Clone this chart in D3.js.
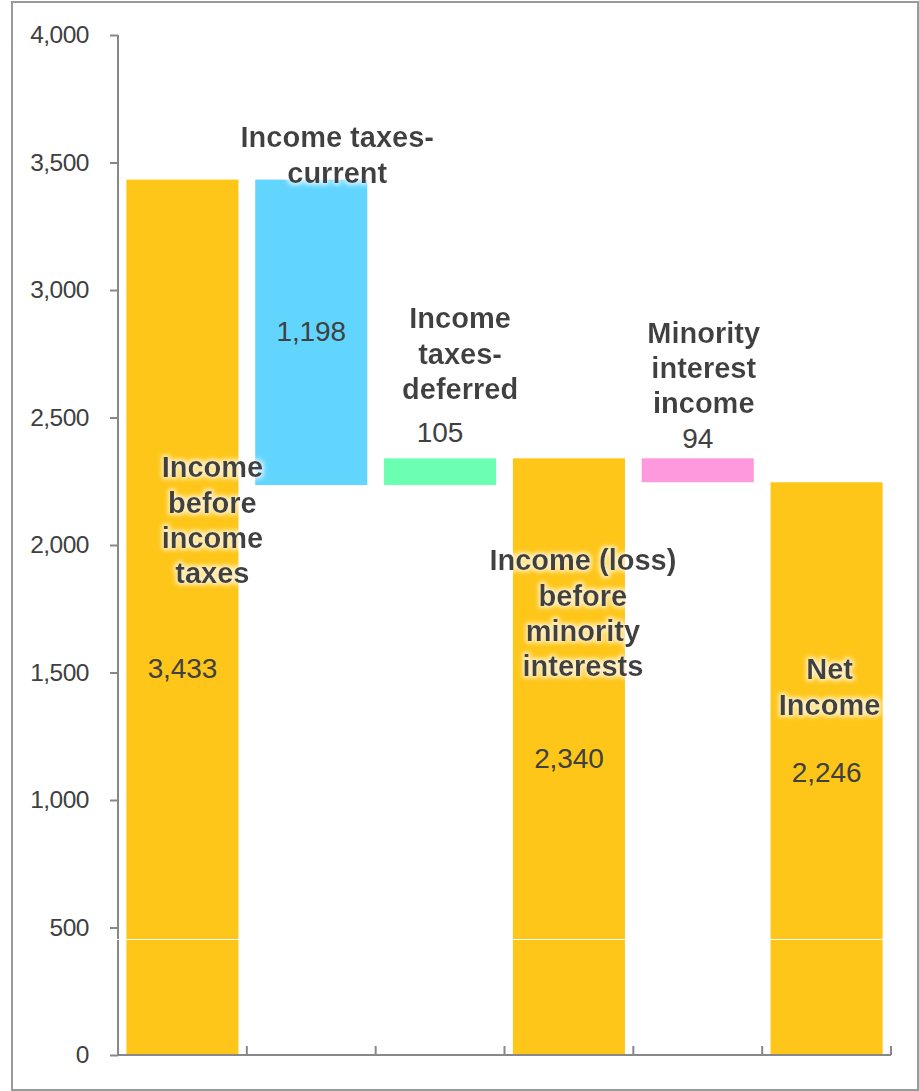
<!DOCTYPE html>
<html>
<head>
<meta charset="utf-8">
<script src="https://cdn.jsdelivr.net/npm/d3@7/dist/d3.min.js"></script>
<style>
  html, body { margin: 0; padding: 0; background: #fff; }
  svg { display: block; font-family: "Liberation Sans", Arial, Helvetica, sans-serif; }
</style>
</head>
<body>
<svg id="chart" width="919" height="1091"></svg>
<script>
// Waterfall: income before taxes down to net income
const categories = [
  "Income before income taxes",
  "Income taxes-current",
  "Income taxes-deferred",
  "Income (loss) before minority interests",
  "Minority interest income",
  "Net Income"
];
// wrapped label lines for each category
const nameLines = [
  ["Income", "before", "income", "taxes"],
  ["Income taxes-", "current"],
  ["Income", "taxes-", "deferred"],
  ["Income (loss)", "before", "minority", "interests"],
  ["Minority", "interest", "income"],
  ["Net", "Income"]
];
// floating bar extents: start and end value
const barStart = [0, 2235, 2235, 0, 2246, 0];
const barEnd   = [3433, 3433, 2340, 2340, 2340, 2246];
const barValue = [3433, 1198, 105, 2340, 94, 2246];
const barKind  = ["total", "step", "step", "total", "step", "total"];
const yTicks = [0, 500, 1000, 1500, 2000, 2500, 3000, 3500, 4000];

// label placement (value units on the y scale, pixel shift along x)
const nameAt  = [2306, 3600, 2890, 1941, 2835, 1514];
const nameDx  = [30, 26, 20, 14, 6, 3];
const valueAt = [1518, 2839, 2443, 1165, 2420, 1110];

const colors = ["#FEC619", "#62D5FE", "#6BFFB2", "#FEC619", "#FF99DD", "#FEC619"];
const textColor = "#404040";
const axisColor = "#888888";

const svg = d3.select("#chart");

// soft white halo behind category names
const defs = svg.append("defs");
const f = defs.append("filter").attr("id", "halo")
  .attr("x", "-20%").attr("y", "-30%").attr("width", "140%").attr("height", "160%");
f.append("feMorphology").attr("in", "SourceAlpha").attr("operator", "dilate").attr("radius", 2).attr("result", "d");
f.append("feGaussianBlur").attr("in", "d").attr("stdDeviation", 2).attr("result", "b");
f.append("feFlood").attr("flood-color", "#ffffff").attr("flood-opacity", 0.7).attr("result", "c");
f.append("feComposite").attr("in", "c").attr("in2", "b").attr("operator", "in").attr("result", "g");
const m = f.append("feMerge");
m.append("feMergeNode").attr("in", "g");
m.append("feMergeNode").attr("in", "SourceGraphic");

// outer frame
svg.append("rect")
  .attr("x", 12).attr("y", 2).attr("width", 906).attr("height", 1088)
  .attr("fill", "none").attr("stroke", "#9a9a9a").attr("stroke-width", 2);

const plot = { left: 118, right: 891, top: 35, bottom: 1055 };

const y = d3.scaleLinear().domain([0, 4000]).range([plot.bottom, plot.top]);
const x = d3.scaleBand()
  .domain(d3.range(categories.length))
  .range([plot.left, plot.right])
  .paddingInner(0.13)
  .paddingOuter(0.065);

// bars
svg.append("g").selectAll("rect")
  .data(categories)
  .join("rect")
  .attr("x", (d, i) => x(i))
  .attr("width", x.bandwidth())
  .attr("y", (d, i) => y(barEnd[i]))
  .attr("height", (d, i) => y(barStart[i]) - y(barEnd[i]))
  .attr("fill", (d, i) => colors[i]);

// y axis
const yAxis = svg.append("g")
  .attr("transform", `translate(${plot.left},0)`)
  .call(d3.axisLeft(y).tickValues(yTicks).tickSize(8).tickPadding(21)
    .tickFormat(d3.format(",")));
yAxis.select(".domain").attr("stroke", axisColor).attr("stroke-width", 2)
  .attr("d", `M0,${plot.top}V${plot.bottom}`);
yAxis.selectAll(".tick line").attr("stroke", axisColor).attr("stroke-width", 2);
yAxis.selectAll(".tick text")
  .attr("fill", textColor).attr("font-size", 24.5).attr("letter-spacing", -0.5)
  .attr("font-family", "Liberation Sans, Arial, sans-serif");

// x axis with ticks between categories
const step = x.step();
const boundaries = d3.range(1, categories.length + 1).map(i => plot.left + i * step);
const xAxis = svg.append("g");
xAxis.append("line")
  .attr("x1", plot.left).attr("x2", boundaries[boundaries.length - 1])
  .attr("y1", plot.bottom).attr("y2", plot.bottom)
  .attr("stroke", axisColor).attr("stroke-width", 2);
xAxis.selectAll("line.tk")
  .data(boundaries)
  .join("line").attr("class", "tk")
  .attr("x1", d => d).attr("x2", d => d)
  .attr("y1", plot.bottom).attr("y2", plot.bottom - 9)
  .attr("stroke", axisColor).attr("stroke-width", 2);

// thin light rule across the plot
svg.append("line")
  .attr("x1", plot.left - 2).attr("x2", plot.right)
  .attr("y1", Math.round(y(455)) + 0.5).attr("y2", Math.round(y(455)) + 0.5)
  .attr("stroke", "#ffffff").attr("stroke-width", 1.2);

// value labels
svg.append("g").selectAll("text")
  .data(barValue)
  .join("text")
  .attr("x", (d, i) => x(i) + x.bandwidth() / 2)
  .attr("y", (d, i) => y(valueAt[i]))
  .attr("dy", "0.36em")
  .attr("text-anchor", "middle")
  .attr("font-size", 28)
  .attr("letter-spacing", -0.1)
  .attr("fill", textColor)
  .text(d => d3.format(",")(d));

// category names
const lineH = 35.3;
const names = svg.append("g").attr("filter", "url(#halo)");
nameLines.forEach((lines, i) => {
  const cx = x(i) + x.bandwidth() / 2 + nameDx[i];
  const t = names.append("text")
    .attr("text-anchor", "middle")
    .attr("font-size", 29)
    .attr("font-weight", "bold")
    .attr("letter-spacing", 0)
    .attr("fill", textColor);
  lines.forEach((ln, k) => {
    t.append("tspan")
      .attr("x", cx)
      .attr("y", y(nameAt[i]) + k * lineH)
      .attr("dy", "0.36em")
      .text(ln);
  });
});
</script>
</body>
</html>
